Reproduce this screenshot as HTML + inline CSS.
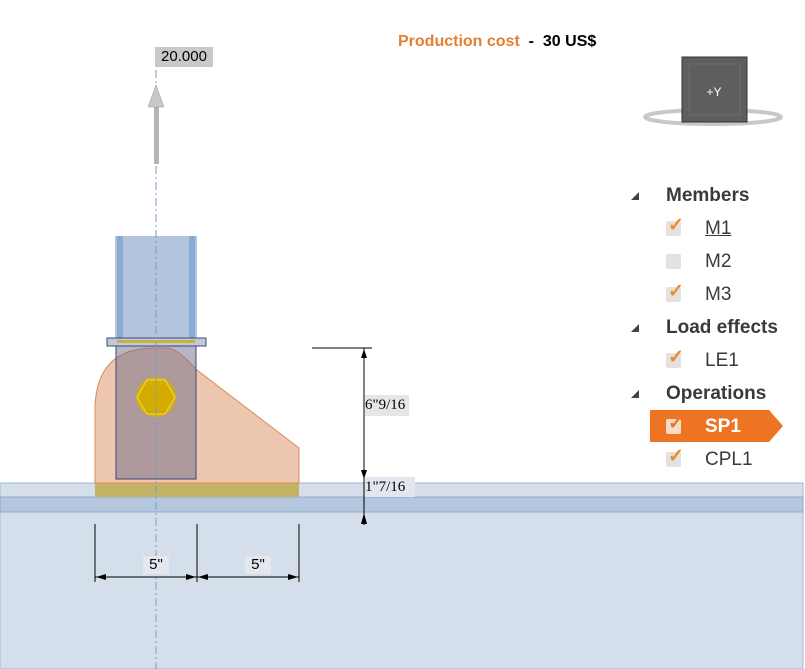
<!DOCTYPE html>
<html><head><meta charset="utf-8"><style>
body{margin:0;width:805px;height:669px;background:#fff;overflow:hidden;font-family:"Liberation Sans",sans-serif;position:relative}
.t{position:absolute;font-size:19px;color:#3a3a3a;font-weight:bold}
.i{position:absolute;font-size:19px;color:#3a3a3a}
.cb{position:absolute;width:15px;height:15px;background:#e2e2e2;border-radius:2px}
.ck{position:absolute;color:#f08a24;font-size:19px;font-weight:bold}
.tri{position:absolute;width:0;height:0;border-left:8px solid transparent;border-bottom:8px solid #444}
</style></head><body>
<svg width="805" height="669" style="position:absolute;left:0;top:0">
<rect x="0" y="483" width="803" height="186" fill="#d5dfeb"/>
<rect x="0" y="483" width="803" height="186" fill="none" stroke="#9fb6d6" stroke-width="1"/>
<rect x="0" y="497" width="803" height="15" fill="#b5c7de" stroke="#8fa9d0"/>
<rect x="95" y="483" width="204" height="14" fill="#c2b266"/>
<path d="M95,483 L95,405 Q98,350 150,348 L168,348 Q178,349 197,370 L299,448 L299,483 Z" fill="#ecc6ae" stroke="#e08a5a" stroke-width="1"/>
<rect x="116" y="345" width="80" height="134" fill="#6f6c8c" fill-opacity=".5" stroke="#3c4878"/>
<rect x="115" y="236" width="82" height="102" fill="#b3c5dd"/>
<rect x="117" y="236" width="6" height="102" fill="#8aaad6"/>
<rect x="189" y="236" width="6" height="102" fill="#8aaad6"/>
<rect x="107" y="338" width="99" height="8" fill="#c2c9d8" stroke="#3c4878"/>
<rect x="117" y="340" width="78" height="3" fill="#c9b13a"/>
<circle cx="156" cy="397" r="20" fill="#d8b000" opacity=".85"/>
<polygon points="137,397 147,380 165,380 175,397 165,414 147,414" fill="#d4ac00" stroke="#f5d840"/>
<line x1="156" y1="70" x2="156" y2="669" stroke="#7a9ac8" stroke-dasharray="8,3,2,3"/>
<rect x="154" y="105" width="5" height="59" fill="#b5b5b5"/>
<polygon points="156,85 148,107 164,107" fill="#c8c8c8" stroke="#999" stroke-width=".5"/>
<line x1="312" y1="348" x2="372" y2="348" stroke="#000"/>
<line x1="364" y1="348" x2="364" y2="525" stroke="#000"/>
<polygon points="364,349 361,358 367,358" fill="#000"/>
<polygon points="364,479 361,470 367,470" fill="#000"/>
<polygon points="364,513 361,524 367,524" fill="#000"/>
<line x1="95" y1="524" x2="95" y2="582" stroke="#000"/>
<line x1="197" y1="524" x2="197" y2="582" stroke="#000"/>
<line x1="299" y1="524" x2="299" y2="582" stroke="#000"/>
<line x1="95" y1="577" x2="299" y2="577" stroke="#000"/>
<polygon points="96,577 106,574 106,580" fill="#000"/>
<polygon points="196,577 186,574 186,580" fill="#000"/>
<polygon points="198,577 208,574 208,580" fill="#000"/>
<polygon points="298,577 288,574 288,580" fill="#000"/>
<ellipse cx="713" cy="117" rx="68" ry="7" fill="none" stroke="#c8c8c8" stroke-width="4"/>
<rect x="682" y="57" width="65" height="65" fill="#5e5e5e" stroke="#333"/>
<rect x="689" y="64" width="51" height="51" fill="none" stroke="#6c6c6c"/>
<text x="714" y="96" fill="#fff" font-size="12" text-anchor="middle" font-family="Liberation Sans">+Y</text>
<polygon points="650,410 769,410 783,426 769,442 650,442" fill="#ee7424"/>
</svg>
<div style="position:absolute;left:155px;top:47px;width:58px;height:20px;background:#c9c9c9;font-size:15px;line-height:20px;text-align:center">20.000</div>
<div style="position:absolute;left:398px;top:33px;font-size:16px;font-weight:bold"><span style="color:#e47f32">Production cost</span><span style="color:#000"> &nbsp;- &nbsp;30 US$</span></div>
<div style="position:absolute;left:365px;top:395px;width:44px;height:21px;background:#e6e6e6;font-size:15px;line-height:21px;font-family:'Liberation Serif',serif">6"9/16</div>
<div style="position:absolute;left:365px;top:477px;width:50px;height:20px;background:#e2e6ee;font-size:15px;line-height:20px;font-family:'Liberation Serif',serif">1"7/16</div>
<div style="position:absolute;left:143px;top:556px;width:26px;height:18px;background:#e4e8ee;font-size:15px;text-align:center;line-height:18px">5"</div>
<div style="position:absolute;left:245px;top:556px;width:26px;height:18px;background:#e4e8ee;font-size:15px;text-align:center;line-height:18px">5"</div>
<div class="tri" style="left:631px;top:192px"></div><div class="t" style="left:666px;top:185px">Members</div>
<div class="cb" style="left:666px;top:221px"></div><div class="ck" style="left:668px;top:214px">✓</div><div class="i" style="left:705px;top:218px;text-decoration:underline">M1</div>
<div class="cb" style="left:666px;top:254px"></div><div class="i" style="left:705px;top:251px">M2</div>
<div class="cb" style="left:666px;top:287px"></div><div class="ck" style="left:668px;top:280px">✓</div><div class="i" style="left:705px;top:284px">M3</div>
<div class="tri" style="left:631px;top:324px"></div><div class="t" style="left:666px;top:317px">Load effects</div>
<div class="cb" style="left:666px;top:353px"></div><div class="ck" style="left:668px;top:346px">✓</div><div class="i" style="left:705px;top:350px">LE1</div>
<div class="tri" style="left:631px;top:390px"></div><div class="t" style="left:666px;top:383px">Operations</div>
<div class="cb" style="left:666px;top:419px;background:#f4dccb"></div><div class="ck" style="left:668px;top:412px;color:#ee7424">✓</div><div class="i" style="left:705px;top:416px;color:#fff;font-weight:bold">SP1</div>
<div class="cb" style="left:666px;top:452px"></div><div class="ck" style="left:668px;top:445px">✓</div><div class="i" style="left:705px;top:449px">CPL1</div>
</body></html>
